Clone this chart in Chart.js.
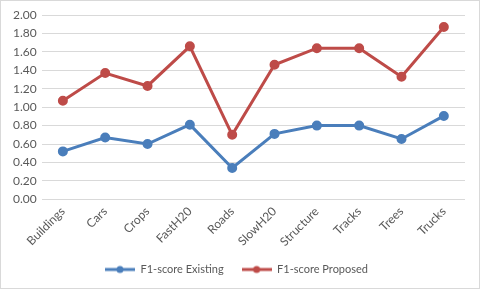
<!DOCTYPE html>
<html>
<head>
<meta charset="utf-8">
<script src="https://cdn.jsdelivr.net/npm/chart.js@4"></script>
<style>
  body { margin: 0; background: #fff; }
  #wrap { width: 478px; height: 287px; border: 1px solid #d9d9d9; position: relative; }
</style>
</head>
<body>
<div id="wrap"><canvas id="myChart"></canvas></div>
<script>
var categories = ['Buildings', 'Cars', 'Crops', 'FastH20', 'Roads', 'SlowH20', 'Structure', 'Tracks', 'Trees', 'Trucks'];
var existing = [0.52, 0.67, 0.60, 0.81, 0.34, 0.71, 0.80, 0.80, 0.655, 0.905];
var proposed = [1.07, 1.37, 1.23, 1.66, 0.70, 1.46, 1.64, 1.64, 1.33, 1.87];
var seriesNames = ['F1-score Existing', 'F1-score Proposed'];

var blue = '#4a7ebb';
var red = '#be4b48';

// legend marker: short line with a dot in the middle
function legendMarker(color) {
    var c = document.createElement('canvas');
    c.width = 30; c.height = 10;
    var g = c.getContext('2d');
    g.strokeStyle = color;
    g.lineWidth = 3;
    g.beginPath(); g.moveTo(0, 5); g.lineTo(30, 5); g.stroke();
    g.fillStyle = color;
    g.beginPath(); g.arc(15, 5, 3.5, 0, Math.PI * 2); g.fill();
    return c;
}

var ctx = document.getElementById('myChart').getContext('2d');
var chart = new Chart(ctx, {
    type: 'line',
    data: {
        labels: categories,
        datasets: [
            {
                label: seriesNames[0],
                data: existing,
                borderColor: blue,
                backgroundColor: blue,
                borderWidth: 3,
                pointRadius: 3.5,
                pointHoverRadius: 3.5,
                legendMarker: legendMarker(blue)
            },
            {
                label: seriesNames[1],
                data: proposed,
                borderColor: red,
                backgroundColor: red,
                borderWidth: 3,
                pointRadius: 3.5,
                pointHoverRadius: 3.5,
                legendMarker: legendMarker(red)
            }
        ]
    },
    options: {
        responsive: true,
        maintainAspectRatio: false,
        animation: false,
        elements: { line: { tension: 0, fill: false } },
        layout: { padding: { top: 14, right: 14, left: 7, bottom: 3 } },
        scales: {
            x: {
                offset: true,
                grid: { display: false },
                border: { display: false },
                ticks: {
                    color: '#595959',
                    font: { family: 'Lato', size: 12 },
                    minRotation: 45,
                    maxRotation: 45,
                    padding: -3
                }
            },
            y: {
                min: 0,
                max: 2,
                grid: { color: '#d9d9d9', drawTicks: false },
                border: { display: false },
                ticks: {
                    stepSize: 0.2,
                    color: '#595959',
                    font: { family: 'Lato', size: 12 },
                    padding: 5,
                    callback: function (v) { return v.toFixed(2); }
                }
            }
        },
        plugins: {
            tooltip: { enabled: false },
            legend: {
                position: 'bottom',
                labels: {
                    color: '#595959',
                    font: { family: 'Lato', size: 11 },
                    usePointStyle: true,
                    pointStyleWidth: 30,
                    padding: 18,
                    generateLabels: function (chart) {
                        return chart.data.datasets.map(function (ds, i) {
                            return {
                                text: ds.label,
                                pointStyle: ds.legendMarker,
                                fillStyle: ds.borderColor,
                                strokeStyle: ds.borderColor,
                                lineWidth: 0,
                                fontColor: '#595959',
                                datasetIndex: i
                            };
                        });
                    }
                }
            }
        }
    }
});
</script>
</body>
</html>
